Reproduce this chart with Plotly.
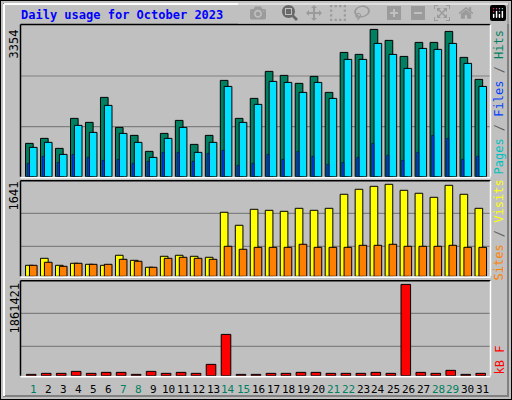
import plotly.graph_objects as go

days = list(range(1, 32))
day_labels = [str(d) for d in days]
weekend = [1, 7, 8, 14, 15, 21, 22, 28, 29]
hits = [759, 873, 645, 1328, 1237, 1806, 1123, 941, 577, 986, 1282, 736, 941, 2193, 1328, 1783,
        2398, 2307, 2125, 2284, 1920, 2830, 2785, 3354, 3104, 2739, 3058, 3058, 3308, 2717, 2216]
files = [668, 782, 508, 1169, 1009, 1624, 986, 782, 440, 873, 1123, 554, 782, 2056, 1237, 1647,
         2170, 2147, 1920, 2147, 1783, 2671, 2671, 3035, 2785, 2466, 2921, 2899, 3035, 2580, 2056]
pages = [304, 463, 326, 508, 440, 372, 395, 304, 349, 554, 554, 349, 531, 599, 258, 304,
         508, 395, 577, 463, 281, 326, 440, 759, 486, 372, 554, 941, 873, 395, 463]
visits = [196, 321, 196, 232, 214, 196, 375, 285, 161, 357, 375, 357, 339, 1142, 910, 1195,
          1177, 1159, 1213, 1177, 1213, 1463, 1552, 1605, 1641, 1534, 1481, 1409, 1623, 1463, 1213]
sites = [196, 250, 178, 232, 214, 214, 303, 268, 161, 321, 339, 321, 303, 535, 482, 517,
         517, 517, 571, 517, 517, 517, 553, 553, 571, 535, 535, 535, 553, 517, 517]
kbytes = [27000, 48000, 48000, 88000, 48000, 68000, 68000, 27000, 88000, 48000, 68000, 48000,
          231000, 842000, 27000, 27000, 48000, 48000, 68000, 68000, 48000, 48000, 48000, 68000,
          48000, 1861421, 68000, 48000, 109000, 27000, 48000]

W, H = 512, 400
def yd(top, bot):
    return [(H - bot) / H, (H - top) / H]

P1 = (24.5, 176.7); P2 = (180.7, 276.3); P3 = (280.7, 375.7)
r1 = 3354 * (P1[1] - P1[0]) / 147.3
r2 = 1641 * (P2[1] - P2[0]) / 92.0
r3 = 1861421 * (P3[1] - P3[0]) / 91.3

fig = go.Figure()
line = dict(color="black", width=1)
fig.add_bar(x=days, y=hits, offset=-0.53, width=0.51, marker=dict(color="#008060", line=line), xaxis="x", yaxis="y")
fig.add_bar(x=days, y=files, offset=-0.27, width=0.51, marker=dict(color="#00E0FF", line=line), xaxis="x", yaxis="y")
fig.add_bar(x=days, y=pages, offset=-0.42, width=0.14, marker=dict(color="#0040FF", line=dict(color="black", width=0.5)), xaxis="x", yaxis="y")
fig.add_bar(x=days, y=visits, offset=-0.53, width=0.51, marker=dict(color="#FFFF00", line=line), xaxis="x2", yaxis="y2")
fig.add_bar(x=days, y=sites, offset=-0.27, width=0.51, marker=dict(color="#FF8000", line=line), xaxis="x2", yaxis="y2")
fig.add_bar(x=days, y=kbytes, offset=-0.47, width=0.64, marker=dict(color="#FF0000", line=line), xaxis="x3", yaxis="y3")

xr = [0.133, 31.47]
xdom = [20.5 / W, 490 / W]
ax = dict(range=xr, domain=xdom, showticklabels=False, showgrid=False, zeroline=False, fixedrange=True)
fig.update_layout(
    width=W, height=H, margin=dict(l=0, r=0, t=0, b=0),
    paper_bgcolor="#C0C0C0", plot_bgcolor="#C0C0C0", showlegend=False, barmode="overlay",
    xaxis=dict(ax, anchor="y"), xaxis2=dict(ax, anchor="y2"), xaxis3=dict(ax, anchor="y3"),
    yaxis=dict(range=[0, r1], domain=yd(*P1), showticklabels=False, showgrid=False, zeroline=False),
    yaxis2=dict(range=[0, r2], domain=yd(*P2), showticklabels=False, showgrid=False, zeroline=False),
    yaxis3=dict(range=[0, r3], domain=yd(*P3), showticklabels=False, showgrid=False, zeroline=False),
    font=dict(family="DejaVu Sans Mono", size=11, color="black"),
)

shapes = []
for yr, rng, P, hs in [("y", r1, P1, [50.0, 100.7]), ("y2", r2, P2, [30.0, 63.0]), ("y3", r3, P3, [29.3, 62.3])]:
    for h in hs:
        v = rng * h / (P[1] - P[0])
        shapes.append(dict(type="line", xref="x domain" if yr == "y" else yr.replace("y", "x") + " domain",
                           yref=yr, x0=0, x1=1, y0=v, y1=v, line=dict(color="#808080", width=1.2), layer="below"))
for P in [P1, P2, P3]:
    x0, x1 = 20.5, 490.5
    shapes.append(dict(type="line", xref="paper", yref="paper", x0=x0/W, x1=x1/W, y0=(H-P[0])/H, y1=(H-P[0])/H, line=dict(color="black", width=1.5)))
    shapes.append(dict(type="line", xref="paper", yref="paper", x0=x0/W, x1=x0/W, y0=(H-P[0])/H, y1=(H-P[1])/H, line=dict(color="black", width=1.5)))
    shapes.append(dict(type="line", xref="paper", yref="paper", x0=x0/W, x1=x1/W, y0=(H-P[1]-1)/H, y1=(H-P[1]-1)/H, line=dict(color="white", width=1.5)))
    shapes.append(dict(type="line", xref="paper", yref="paper", x0=x1/W, x1=x1/W, y0=(H-P[0])/H, y1=(H-P[1])/H, line=dict(color="white", width=1.5)))
shapes.append(dict(type="rect", xref="paper", yref="paper", x0=0, x1=1, y0=0, y1=1, line=dict(color="black", width=2)))
shapes.append(dict(type="rect", xref="paper", yref="paper", x0=4/W, x1=(W-4)/W, y0=4/H, y1=(H-4)/H, line=dict(color="#808080", width=2)))
shapes.append(dict(type="line", xref="paper", yref="paper", x0=4/W, x1=(W-4)/W, y0=(H-4)/H, y1=(H-4)/H, line=dict(color="white", width=2)))
shapes.append(dict(type="line", xref="paper", yref="paper", x0=4/W, x1=4/W, y0=4/H, y1=(H-4)/H, line=dict(color="white", width=2)))
fig.update_layout(shapes=shapes)

ann = []
ann.append(dict(text="<b>Daily usage for October 2023</b>", x=19/W, y=(H-15)/H, xref="paper", yref="paper",
                xanchor="left", yanchor="middle", showarrow=False, font=dict(color="#0000FF", size=12)))
for txt, ytop in [("3354", 28), ("1641", 180), ("1861421", 281)]:
    ann.append(dict(text=txt, x=14/W, y=(H-ytop)/H, xref="paper", yref="paper", textangle=-90,
                    xanchor="center", yanchor="top", showarrow=False, font=dict(size=12)))
sep = '<span style="color:#606060"> / </span>'
ann.append(dict(text='<span style="color:#00C0C0">Pages</span>' + sep + '<span style="color:#0040FF">Files</span>' + sep +
                '<span style="color:#008060">Hits</span>', x=499/W, y=(H-28)/H, xref="paper", yref="paper",
                textangle=-90, xanchor="center", yanchor="top", showarrow=False, font=dict(size=12)))
ann.append(dict(text='<span style="color:#FF8000">Sites</span>' + sep + '<span style="color:#FFFF00">Visits</span>',
                x=499/W, y=(H-178)/H, xref="paper", yref="paper", textangle=-90, xanchor="center", yanchor="top",
                showarrow=False, font=dict(size=12)))
ann.append(dict(text='<span style="color:#FF0000">kB F</span>', x=499/W, y=(H-377)/H, xref="paper", yref="paper",
                textangle=-90, xanchor="center", yanchor="bottom", showarrow=False, font=dict(size=12)))
for d, lab in zip(days, day_labels):
    ann.append(dict(text=lab, x=d, y=(H-389)/H, xref="x3", yref="paper", showarrow=False,
                    xanchor="center", yanchor="middle",
                    font=dict(size=11, color="#008060" if d in weekend else "black")))
fig.update_layout(annotations=ann)

fig.write_html("out.html")
with open("out.html", encoding="utf-8") as f:
    html = f.read()
html = html.replace("<head>", "<head><style>html,body{margin:0;padding:0;overflow:hidden;}</style>", 1)
with open("out.html", "w", encoding="utf-8") as f:
    f.write(html)
